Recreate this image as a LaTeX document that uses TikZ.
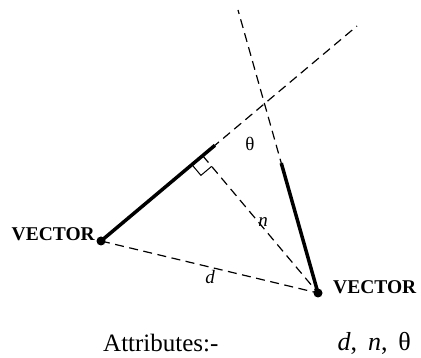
\documentclass[tikz,border=0pt]{standalone}
\usepackage{fontspec}
\setmainfont{Liberation Serif}
\usetikzlibrary{calc}
\begin{document}
\begin{tikzpicture}[x=1pt,y=-1pt,
  dashline/.style={dash pattern=on 9pt off 5.5pt, line width=1.2pt},
  thickline/.style={line width=3.5pt},
  dotnode/.style={circle,fill=black,inner sep=0pt,minimum size=9pt},
  veclabel/.style={font=\fontsize{19.5}{19.5}\selectfont\bfseries, inner sep=0pt},
  lbl/.style={font=\fontsize{19}{19}\selectfont, inner sep=0pt},
  bigtext/.style={font=\fontsize{25}{25}\selectfont, inner sep=0pt}]
\useasboundingbox (0,0) rectangle (421,358);
\node[dotnode] (A) at (101,241) {};
\node[dotnode] (B) at (318,293) {};
\coordinate (Aend) at (357,26);
\coordinate (Btop) at (238,10);
\coordinate (L1) at ($(A.center)!0.445!(Aend)$);
\coordinate (R1) at ($(B.center)!0.459!(Btop)$);
\coordinate (F) at ($(A.center)!(B.center)!(Aend)$);
\coordinate (ma) at ($(F)!14pt!(A.center)$);
\coordinate (mb) at ($(F)!14pt!(B.center)$);
\coordinate (mc) at ($(ma)+(mb)-(F)$);
% dashed lines
\draw[dashline] (A.center) -- (Aend);
\draw[dashline] (B.center) -- (Btop);
\draw[dashline] (A.center) -- (B.center);
\draw[dashline] (F) -- (B.center);
% thick segments
\draw[thickline] (A.center) -- (L1);
\draw[thickline] (B.center) -- (R1);
% right angle mark
\draw[line width=1pt] (ma) -- (mc) -- (mb);
% labels
\node[veclabel, anchor=east] (vl) at (95,234) {VECTOR};
\node[veclabel, anchor=west] (vr) at (333,287) {VECTOR};
\node[lbl] (th) at (250,144) {θ};
\node[lbl] (nl) at (263,222) {\itshape n};
\node[lbl] (dl) at (210,277) {\itshape d};
\node[bigtext, anchor=west] (at) at (103,343) {Attributes:-};
\node[bigtext, anchor=east, font=\fontsize{26}{26}\selectfont] (vals) at (411,343) {\itshape d\upshape,\, \itshape n\upshape,\, θ};
\end{tikzpicture}
\end{document}
